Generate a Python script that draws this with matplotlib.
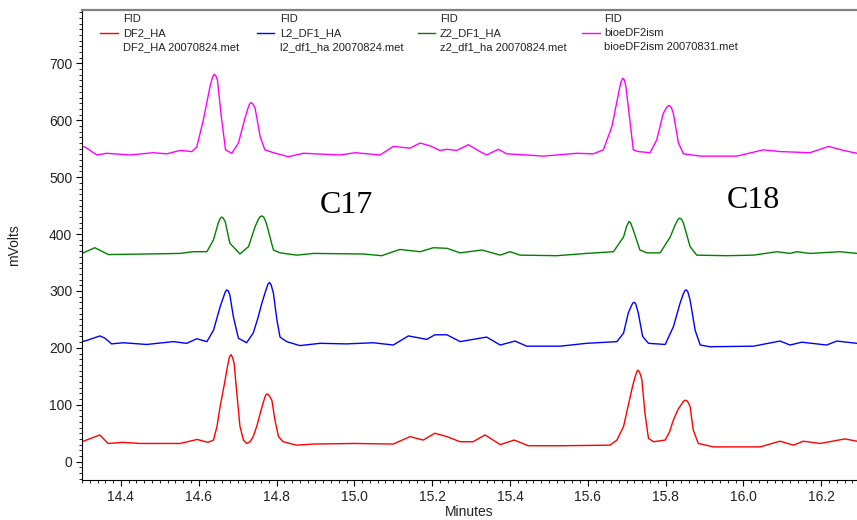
import matplotlib
matplotlib.use("Agg")
import matplotlib.pyplot as plt
from matplotlib.lines import Line2D
from matplotlib.ticker import MultipleLocator

plt.rcParams["font.family"] = ["Liberation Sans", "DejaVu Sans"]

# chromatogram traces (minutes, mVolts)
red_t = [14.300, 14.346, 14.367, 14.405, 14.449, 14.552, 14.596, 14.624, 14.638, 14.647,
         14.655, 14.662, 14.668, 14.674, 14.679, 14.683, 14.687, 14.691, 14.698, 14.706,
         14.715, 14.723, 14.732, 14.740, 14.750, 14.758, 14.765, 14.770, 14.773, 14.776,
         14.780, 14.784, 14.788, 14.796, 14.805, 14.817, 14.852, 14.895, 15.000,
         15.100, 15.143, 15.177, 15.207, 15.238, 15.272, 15.305, 15.336, 15.375, 15.411,
         15.447, 15.529, 15.657, 15.675, 15.692, 15.709, 15.716, 15.722, 15.726, 15.729,
         15.733, 15.736, 15.739, 15.747, 15.756, 15.769, 15.799, 15.810, 15.820, 15.832,
         15.840, 15.846, 15.850, 15.855, 15.859, 15.863, 15.871, 15.884, 15.923,
         16.043, 16.094, 16.129, 16.154, 16.197, 16.261, 16.292]
red_mv = [35, 47, 32, 34, 32, 32, 39, 34, 38, 62,
          97, 122, 144, 168, 184, 188, 183, 173, 120, 62,
          38, 32, 35, 44, 64, 85, 102, 113, 118, 119,
          117, 113, 108, 73, 44, 35, 29, 31, 32,
          31, 44, 38, 50, 44, 35, 35, 47, 30, 38,
          28, 28, 29, 38, 62, 114, 135, 150, 158, 161,
          157, 152, 144, 85, 41, 35, 38, 52, 73, 92,
          100, 106, 108, 107, 103, 97, 56, 32, 26,
          26, 36, 29, 36, 32, 40, 36]

blue_t = [14.300, 14.312, 14.346, 14.359, 14.376, 14.406, 14.466, 14.535, 14.569, 14.595,
          14.621, 14.638, 14.655, 14.664, 14.668, 14.672, 14.676, 14.680, 14.689, 14.702,
          14.723, 14.740, 14.752, 14.762, 14.772, 14.778, 14.782, 14.786, 14.792, 14.801,
          14.809, 14.826, 14.860, 14.912, 14.980, 15.049, 15.100,
          15.139, 15.186, 15.207, 15.238, 15.272, 15.340, 15.375, 15.413, 15.443, 15.529,
          15.597, 15.675, 15.692, 15.704, 15.712, 15.716, 15.719, 15.723, 15.730, 15.741,
          15.756, 15.799, 15.820, 15.837, 15.845, 15.850, 15.853, 15.857, 15.863, 15.876,
          15.889, 15.914, 16.026, 16.094, 16.120, 16.150, 16.214, 16.240, 16.292]
blue_mv = [211, 213, 221, 217, 207, 209, 206, 211, 208, 216,
           211, 231, 272, 290, 298, 302, 300, 293, 255, 217,
           209, 226, 252, 278, 300, 312, 315, 311, 296, 249,
           219, 211, 204, 208, 207, 209, 205,
           221, 215, 223, 223, 211, 219, 205, 212, 203, 203,
           208, 211, 226, 261, 274, 279, 280, 278, 261, 220,
           208, 206, 237, 278, 294, 301, 302, 299, 284, 231,
           205, 202, 203, 212, 205, 210, 205, 212, 208]

green_t = [14.300, 14.333, 14.368, 14.466, 14.552, 14.586, 14.621, 14.638, 14.650, 14.655,
           14.659, 14.663, 14.668, 14.680, 14.706, 14.728, 14.745, 14.752, 14.757, 14.762,
           14.767, 14.771, 14.775, 14.792, 14.809, 14.852,
           14.895, 15.023, 15.070, 15.117, 15.169, 15.203, 15.238, 15.272, 15.328, 15.375,
           15.400, 15.426, 15.520, 15.597, 15.666, 15.692, 15.700, 15.706, 15.710, 15.717,
           15.734, 15.752, 15.786, 15.812, 15.824, 15.831, 15.836, 15.841, 15.846, 15.863,
           15.880, 15.957, 16.026, 16.086, 16.120, 16.137, 16.171, 16.249, 16.292]
green_mv = [366, 376, 364, 365, 366, 369, 369, 390, 419, 427,
            430, 428, 422, 384, 365, 378, 413, 424, 430, 432,
            430, 424, 416, 372, 367, 363,
            366, 365, 362, 373, 369, 376, 375, 367, 372, 363,
            369, 363, 362, 366, 369, 395, 414, 422, 420, 407,
            372, 367, 367, 395, 415, 425, 428, 426, 419, 378,
            363, 362, 363, 369, 366, 369, 366, 369, 366]

pink_t = [14.300, 14.308, 14.338, 14.363, 14.423, 14.483, 14.518, 14.552, 14.582, 14.595,
          14.612, 14.629, 14.635, 14.640, 14.644, 14.648, 14.659, 14.669, 14.685, 14.702,
          14.719, 14.727, 14.731, 14.734, 14.739, 14.745, 14.758, 14.770, 14.792, 14.830,
          14.869, 14.963, 15.002, 15.066, 15.100,
          15.143, 15.169, 15.195, 15.220, 15.238, 15.263, 15.293, 15.323, 15.340, 15.370,
          15.392, 15.443, 15.486, 15.572, 15.614, 15.640, 15.662, 15.679, 15.685, 15.690,
          15.694, 15.698, 15.709, 15.717, 15.730, 15.760, 15.777, 15.794, 15.802, 15.806,
          15.810, 15.815, 15.820, 15.833, 15.846,
          15.889, 15.983, 16.051, 16.094, 16.171, 16.219, 16.257, 16.292]
pink_mv = [554, 553, 539, 542, 539, 543, 541, 547, 545, 553,
           601, 659, 675, 681, 678, 671, 601, 548, 542, 560,
           604, 622, 629, 631, 629, 621, 571, 548, 543, 536,
           542, 539, 543, 539, 554,
           551, 560, 555, 547, 549, 547, 557, 545, 539, 549,
           541, 539, 537, 542, 541, 548, 589, 647, 667, 674,
           671, 659, 595, 548, 545, 543, 565, 612, 622, 625,
           626, 622, 612, 560, 541,
           537, 537, 548, 545, 543, 554, 547, 542]

trace_colors = ["#ff0000", "#0000ff", "#008000", "#ff00ff"]
legend_names = ["DF2_HA", "L2_DF1_HA", "Z2_DF1_HA", "bioeDF2ism"]
legend_files = ["DF2_HA 20070824.met", "l2_df1_ha 20070824.met",
                "z2_df1_ha 20070824.met", "bioeDF2ism 20070831.met"]

W, H = 857, 520
fig = plt.figure(figsize=(W / 100, H / 100), dpi=100)
ax = fig.add_axes([82 / W, 40 / H, (W - 82) / W, 470 / H])

series = [(red_t, red_mv), (blue_t, blue_mv), (green_t, green_mv), (pink_t, pink_mv)]
for (t, mv), c in zip(series, trace_colors):
    ax.plot(t, mv, color=c, lw=1.0, solid_joinstyle="round")

ax.set_xlim(14.3, 16.292)
ax.set_ylim(-32.2, 793.8)
ax.xaxis.set_major_locator(MultipleLocator(0.2))
ax.xaxis.set_minor_locator(MultipleLocator(0.02))
ax.yaxis.set_major_locator(MultipleLocator(100))
ax.yaxis.set_minor_locator(MultipleLocator(10))
ax.tick_params(which="major", length=4, width=0.8, labelsize=10, labelcolor="#222222", pad=3)
ax.tick_params(which="minor", length=2, width=0.6)

ax.spines["right"].set_visible(False)
ax.spines["top"].set_color("#808080")
ax.spines["top"].set_linewidth(1.6)

ax.set_xlabel("Minutes", fontsize=10, color="#222222", labelpad=1)
ax.set_ylabel("mVolts", fontsize=10, color="#222222", labelpad=20)

ax.text(14.912, 436.6, "C17", fontsize=23, family=["Liberation Serif"], va="baseline", ha="left")
ax.text(15.958, 445.3, "C18", fontsize=23, family=["Liberation Serif"], va="baseline", ha="left")

# legend row across the top
line_x = [(100, 118), (257, 274), (418, 435), (582, 600)]
text_x = [123, 280, 440, 604]
for (x0, x1), tx, c, name, fn in zip(line_x, text_x, trace_colors, legend_names, legend_files):
    fig.add_artist(Line2D([x0 / W, x1 / W], [1 - 33 / H] * 2, color=c, lw=1.0))
    fig.text(tx / W, 1 - 19 / H, "FID", fontsize=8, va="center", color="#222222")
    fig.text(tx / W, 1 - 33 / H, name, fontsize=8, va="center", color="#222222")
    fig.text(tx / W, 1 - 47 / H, fn, fontsize=8, va="center", color="#222222")

fig.savefig("out.png", dpi=100)
